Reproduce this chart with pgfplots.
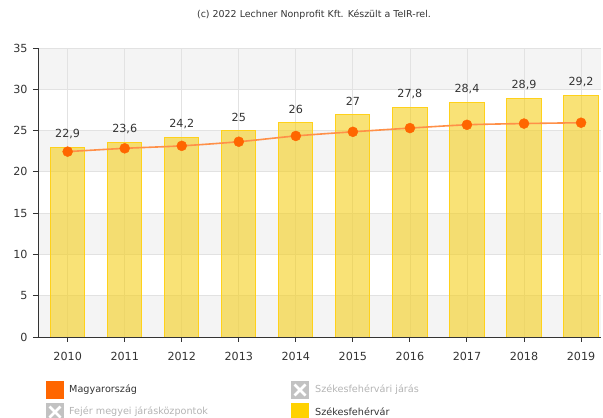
\documentclass[border=0pt]{standalone}
\usepackage{pgfplots}
\pgfplotsset{compat=1.18}
\usepackage{pgfplotstable}
\usepackage{fontspec}
\setmainfont{DejaVu Sans}

\definecolor{barfill}{HTML}{F5CE1A}
\definecolor{baredge}{HTML}{FFD11A}
\definecolor{linec}{HTML}{FF9048}
\definecolor{markc}{HTML}{FF6600}
\definecolor{bandc}{HTML}{F4F4F4}
\definecolor{gridc}{HTML}{E2E2E2}
\definecolor{axisc}{HTML}{333333}
\definecolor{txt}{HTML}{333333}
\definecolor{legx}{HTML}{C2C2C2}
\definecolor{legtxt}{HTML}{B4B4B4}
\definecolor{legyel}{HTML}{FFD200}

% x: 0 = 2010 ... 9 = 2019
\pgfplotstableread{
x  varos  orszag
0  22.9   22.45
1  23.6   22.85
2  24.2   23.15
3  25.0   23.65
4  26.0   24.35
5  27.0   24.85
6  27.8   25.30
7  28.4   25.70
8  28.9   25.85
9  29.2   25.95
}\adat

\begin{document}
\begin{tikzpicture}
\begin{axis}[
    at={(0,0)}, anchor=south west,
    set layers,
    width=563bp, height=289bp, scale only axis,
    xmin=-0.52, xmax=9.35,
    ymin=0, ymax=35,
    ytick={0,5,...,35},
    xtick={0,...,9},
    xticklabels={2010,2011,2012,2013,2014,2015,2016,2017,2018,2019},
    axis x line*=bottom, axis y line*=left,
    tick align=outside, major tick length=5bp,
    xmajorgrids, ymajorgrids,
    grid style={gridc, line width=0.8bp},
    axis line style={axisc, line width=1bp},
    tick style={axisc, line width=1bp},
    tick label style={font=\fontsize{11.2}{13}\selectfont, text=txt},
    xticklabel style={yshift=-7bp},
    yticklabel style={xshift=-2bp},
    /pgf/number format/assume math mode=true,
    /pgf/number format/use comma,
    /pgf/number format/fixed,
    /pgf/number format/precision=1,
    bandst/.style={fill=bandc, draw=none, forget plot, on layer=axis background},
  ]
% background bands
\addplot[bandst] coordinates {(-0.52,0) (9.35,0) (9.35,5) (-0.52,5)} -- cycle;
\addplot[bandst] coordinates {(-0.52,10) (9.35,10) (9.35,15) (-0.52,15)} -- cycle;
\addplot[bandst] coordinates {(-0.52,20) (9.35,20) (9.35,25) (-0.52,25)} -- cycle;
\addplot[bandst] coordinates {(-0.52,30) (9.35,30) (9.35,35) (-0.52,35)} -- cycle;

% Székesfehérvár
\addplot[ybar, bar width=0.6, fill=barfill, fill opacity=0.6,
  draw=baredge, line width=1bp,
  nodes near coords,
  every node near coord/.append style={font=\fontsize{11.2}{13}\selectfont,
    text=txt, text opacity=1, yshift=5bp}]
  table[x=x, y=varos] {\adat};

% Magyarország
\addplot[smooth, linec, line width=1.6bp, mark=*,
  mark size=5bp, mark options={fill=markc, draw=markc, line width=0.4bp}]
  table[x=x, y=orszag] {\adat};
\end{axis}

\node[font=\fontsize{9.5}{11}\selectfont, text=txt] at (276bp,322bp)
  {(c) 2022 Lechner Nonprofit Kft. Készült a TeIR-rel.};

% legend
\tikzset{legt/.style={anchor=west, inner sep=0pt, font=\fontsize{9.7}{11}\selectfont}}
\fill[markc] (8bp,-62bp) rectangle (26bp,-44bp);
\node[legt, text=txt] at (31bp,-53bp) {Magyarország};

\fill[legx] (253bp,-62bp) rectangle (271bp,-44bp);
\draw[white, line width=2.8bp] (256.5bp,-58.5bp) -- (267.5bp,-47.5bp) (256.5bp,-47.5bp) -- (267.5bp,-58.5bp);
\node[legt, text=legtxt] at (277bp,-53bp) {Székesfehérvári járás};

\fill[legx] (8bp,-84bp) rectangle (26bp,-66bp);
\draw[white, line width=2.8bp] (11.5bp,-80.5bp) -- (22.5bp,-69.5bp) (11.5bp,-69.5bp) -- (22.5bp,-80.5bp);
\node[legt, text=legtxt] at (31bp,-75bp) {Fejér megyei járásközpontok};

\fill[legyel] (253bp,-84bp) rectangle (271bp,-66bp);
\node[legt, text=txt] at (277bp,-75bp) {Székesfehérvár};

\pgfresetboundingbox
\path[use as bounding box] (-38bp,-81bp) rectangle (565bp,337bp);
\end{tikzpicture}
\end{document}
